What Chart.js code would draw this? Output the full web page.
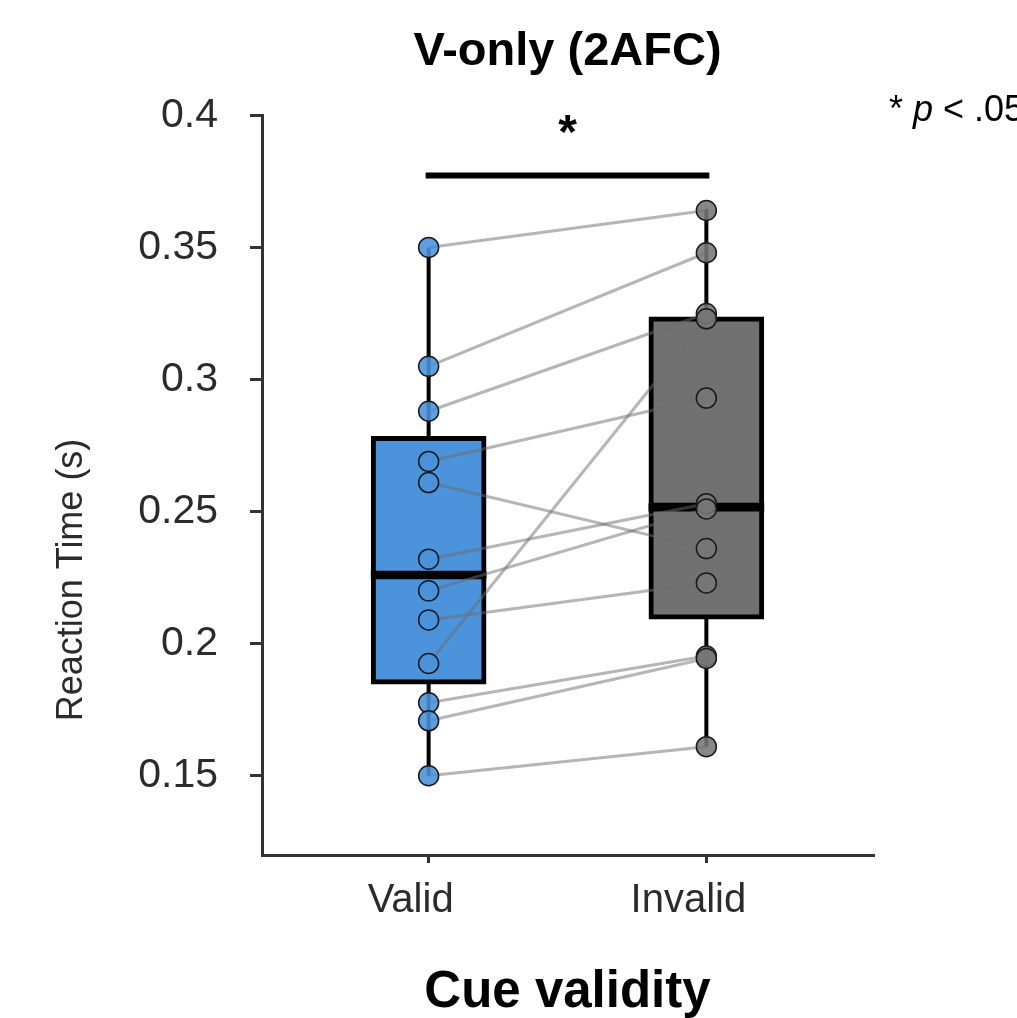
<!DOCTYPE html>
<html>
<head>
<meta charset="utf-8">
<title>V-only (2AFC)</title>
<script src="https://cdn.jsdelivr.net/npm/chart.js@4.4.1/dist/chart.umd.min.js"></script>
<style>
  html, body { margin: 0; padding: 0; background: #fff; }
</style>
</head>
<body>
<canvas id="rtChart" width="1017" height="1018"></canvas>
<script>
// data
const categories = ["Valid", "Invalid"];
const xTickValues = [1, 2];

// paired reaction times (s), same participant at the same index
const validRT   = [0.350, 0.305, 0.288, 0.269, 0.261, 0.232, 0.220, 0.209, 0.1925, 0.1776, 0.1708, 0.150];
const invalidRT = [0.364, 0.348, 0.325, 0.293, 0.236, 0.253, 0.251, 0.223, 0.323, 0.1953, 0.1944, 0.161];

// box stats: [min, q1, median, q3, max]
const validStats   = [0.150, 0.1847, 0.226, 0.2785, 0.350];
const invalidStats = [0.161, 0.2093, 0.2517, 0.3237, 0.3646];

const yTicks = [0.15, 0.2, 0.25, 0.3, 0.35, 0.4];
const yTickLabels = ["0.15", "0.2", "0.25", "0.3", "0.35", "0.4"];

// significance bracket between the two conditions
const sigPair = [1, 2];
const sigLevel = 0.3772;

const FONT = "'Liberation Sans', Arial, sans-serif";
const boxColors = ["#4b93db", "#717171"];
const pointColors = ["rgba(74,146,219,0.88)", "rgba(118,118,118,0.88)"];

const datasets = [];

// participant points
[validRT, invalidRT].forEach((vals, g) => {
    datasets.push({
        type: "scatter",
        data: vals.map(v => ({ x: xTickValues[g], y: v })),
        backgroundColor: pointColors[g],
        borderColor: "#1a1a1a",
        borderWidth: 1.5,
        pointRadius: 10,
        order: 1
    });
});

// lines joining each participant
validRT.forEach((v, i) => {
    datasets.push({
        type: "line",
        data: [{ x: xTickValues[0], y: v }, { x: xTickValues[1], y: invalidRT[i] }],
        borderColor: "rgba(110,110,110,0.5)",
        borderWidth: 3,
        pointRadius: 0,
        order: 2
    });
});

// significance bar
datasets.push({
    type: "line",
    data: sigPair.map(x => ({ x: x, y: sigLevel })),
    borderColor: "#000",
    borderWidth: 6,
    borderCapStyle: "square",
    pointRadius: 0,
    order: 2
});

const stats = [validStats, invalidStats];

// medians (thin floating bars)
datasets.push({
    type: "bar",
    data: stats.map((s, g) => ({ x: xTickValues[g], y: [s[2] - 0.0015, s[2] + 0.0015] })),
    backgroundColor: "#000",
    barThickness: 115,
    grouped: false,
    order: 3
});

// boxes q1..q3
datasets.push({
    type: "bar",
    data: stats.map((s, g) => ({ x: xTickValues[g], y: [s[1], s[3]] })),
    backgroundColor: boxColors,
    borderColor: "#000",
    borderWidth: 5,
    borderSkipped: false,
    barThickness: 115,
    grouped: false,
    order: 4
});

// whiskers
stats.forEach((s, g) => {
    const x = xTickValues[g];
    [[s[4], s[3]], [s[1], s[0]]].forEach(seg => {
        datasets.push({
            type: "line",
            data: seg.map(y => ({ x: x, y: y })),
            borderColor: "#000",
            borderWidth: 4,
            pointRadius: 0,
            order: 5
        });
    });
});

const annotations = {
    id: "annotations",
    afterDraw(chart) {
        const { ctx, scales } = chart;
        const x = scales.x, y = scales.y;
        ctx.save();

        // y axis title
        ctx.save();
        ctx.translate(72, 580);
        ctx.rotate(-Math.PI / 2);
        ctx.font = "36px " + FONT;
        ctx.fillStyle = "#2b2b2b";
        ctx.textAlign = "center";
        ctx.textBaseline = "middle";
        ctx.fillText("Reaction Time (s)", 0, 0);
        ctx.restore();

        // star over the bracket
        ctx.font = "bold 48px " + FONT;
        ctx.fillStyle = "#000";
        ctx.textAlign = "center";
        ctx.textBaseline = "alphabetic";
        ctx.fillText("*", x.getPixelForValue((sigPair[0] + sigPair[1]) / 2), y.getPixelForValue(sigLevel) - 28);

        // "* p < .05" note
        ctx.textAlign = "left";
        let px = 889;
        const base = 121;
        const parts = [["* ", "36px "], ["p", "italic 36px "], [" < .05", "36px "]];
        parts.forEach(([txt, f]) => {
            ctx.font = f + FONT;
            ctx.fillText(txt, px, base);
            px += ctx.measureText(txt).width;
        });
        ctx.restore();
    }
};

new Chart(document.getElementById("rtChart"), {
    data: { datasets: datasets },
    options: {
        responsive: false,
        animation: false,
        layout: { padding: { left: 0, right: 144, top: 0, bottom: 0 } },
        plugins: {
            legend: { display: false },
            tooltip: { enabled: false },
            title: {
                display: true,
                text: "V-only (2AFC)",
                fullSize: false,
                color: "#000",
                font: { family: FONT, size: 47, weight: "bold" },
                padding: { top: 24, bottom: 35 }
            }
        },
        scales: {
            x: {
                type: "linear",
                min: 0.4,
                max: 2.6,
                offset: false,
                afterBuildTicks: s => { s.ticks = xTickValues.map(v => ({ value: v })); },
                ticks: {
                    callback: (v, i) => categories[i],
                    font: { family: FONT, size: 40 },
                    color: "#2b2b2b",
                    padding: 14,
                    labelOffset: -18,
                    maxRotation: 0,
                    autoSkip: false
                },
                grid: { offset: false, drawOnChartArea: false, drawTicks: true, tickLength: 8, color: "#333", lineWidth: 3 },
                border: { display: true, color: "#333", width: 3 },
                title: {
                    display: true,
                    text: "Cue validity",
                    color: "#000",
                    font: { family: FONT, size: 51, weight: "bold", lineHeight: 1.0 },
                    padding: { top: 0, bottom: 0 }
                },
                afterFit: s => { s.height = 163; }
            },
            y: {
                type: "linear",
                min: 0.12,
                max: 0.4,
                afterBuildTicks: s => { s.ticks = yTicks.map(v => ({ value: v })); },
                ticks: {
                    callback: (v, i) => yTickLabels[i],
                    font: { family: FONT, size: 41 },
                    color: "#2b2b2b",
                    padding: 32
                },
                grid: { drawOnChartArea: false, drawTicks: true, tickLength: 12, color: "#333", lineWidth: 3 },
                border: { display: true, color: "#333", width: 3 },
                afterFit: s => { s.width = 262; }
            }
        }
    },
    plugins: [annotations]
});
</script>
</body>
</html>
